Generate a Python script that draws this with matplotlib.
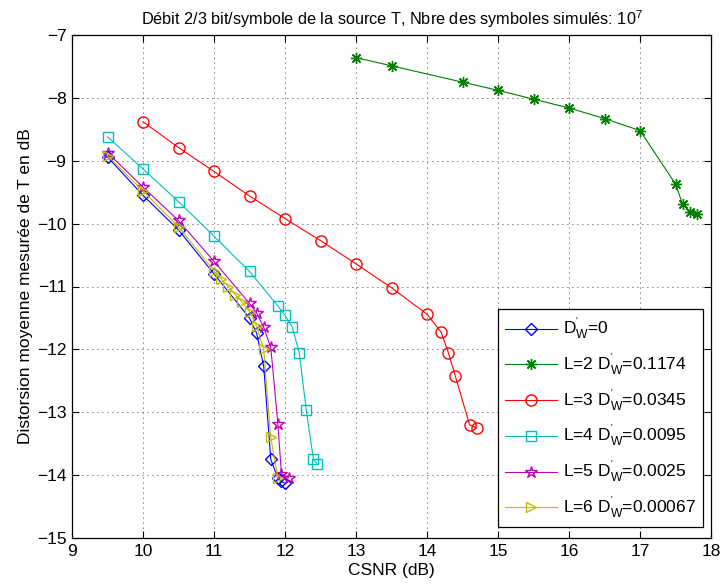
import matplotlib.pyplot as plt

plt.rcParams['font.family'] = ['Liberation Sans', 'DejaVu Sans']
plt.rcParams['mathtext.default'] = 'regular'

# courbes
x_d0 = [9.5, 10, 10.5, 11, 11.5, 11.6, 11.7, 11.8, 11.9, 11.95, 12.0]
y_d0 = [-8.94, -9.55, -10.1, -10.8, -11.5, -11.74, -12.27, -13.75, -14.05, -14.1, -14.13]

x_l2 = [13, 13.5, 14.5, 15, 15.5, 16, 16.5, 17, 17.5, 17.6, 17.7, 17.8]
y_l2 = [-7.36, -7.49, -7.75, -7.88, -8.02, -8.16, -8.33, -8.52, -9.37, -9.69, -9.82, -9.84]

x_l3 = [10, 10.5, 11, 11.5, 12, 12.5, 13, 13.5, 14, 14.2, 14.3, 14.4, 14.6, 14.7]
y_l3 = [-8.38, -8.79, -9.17, -9.56, -9.92, -10.27, -10.64, -11.02, -11.44, -11.73, -12.05, -12.43, -13.2, -13.25]

x_l4 = [9.5, 10, 10.5, 11, 11.5, 11.9, 12.0, 12.1, 12.2, 12.3, 12.4, 12.45]
y_l4 = [-8.62, -9.13, -9.65, -10.2, -10.76, -11.31, -11.46, -11.64, -12.05, -12.97, -13.75, -13.82]

x_l5 = [9.5, 10, 10.5, 11, 11.5, 11.6, 11.7, 11.8, 11.9, 11.95, 12.05]
y_l5 = [-8.87, -9.42, -9.95, -10.6, -11.27, -11.42, -11.65, -11.97, -13.19, -13.98, -14.04]

x_l6 = [9.5, 10, 10.5, 11, 11.1, 11.2, 11.3, 11.4, 11.5, 11.6, 11.7, 11.8, 11.9]
y_l6 = [-8.92, -9.48, -10.05, -10.75, -10.88, -11.0, -11.13, -11.25, -11.4, -11.63, -12.0, -13.4, -14.05]

labels = [r"$D^{'}_{W}$=0",
          r"L=2 $D^{'}_{W}$=0.1174",
          r"L=3 $D^{'}_{W}$=0.0345",
          r"L=4 $D^{'}_{W}$=0.0095",
          r"L=5 $D^{'}_{W}$=0.0025",
          r"L=6 $D^{'}_{W}$=0.00067"]

fig = plt.figure(figsize=(7.2, 5.87), dpi=100)
ax = fig.add_axes([72 / 720, 1 - 538 / 587, 639 / 720, 503 / 587])

ms = 7
lw = 0.8
ax.plot(x_d0, y_d0, color=(0, 0, 1), marker='D', ms=6.5, mfc='none', lw=lw, label=labels[0])
ax.plot(x_l2, y_l2, color=(0, 0.5, 0), marker=(8, 2, 0), ms=ms + 1, mfc='none', lw=lw, label=labels[1])
ax.plot(x_l3, y_l3, color=(1, 0, 0), marker='o', ms=ms + 1, mfc='none', lw=lw, label=labels[2])
ax.plot(x_l4, y_l4, color=(0, 0.75, 0.75), marker='s', ms=ms, mfc='none', lw=lw, label=labels[3])
ax.plot(x_l5, y_l5, color=(0.75, 0, 0.75), marker='*', ms=ms + 2, mfc='none', lw=lw, label=labels[4])
ax.plot(x_l6, y_l6, color=(0.75, 0.75, 0), marker='>', ms=ms, mfc='none', lw=lw, label=labels[5])

ax.set_xlim(9, 18)
ax.set_ylim(-15, -7)
ax.set_xticks(range(9, 19))
ax.set_yticks(range(-15, -6))
ax.tick_params(direction='in', top=True, right=True, labelsize=12.5, length=5, pad=4)
ax.grid(True, color='black', linestyle=(0, (1, 5)), linewidth=0.6)
for s in ax.spines.values():
    s.set_linewidth(0.9)

ax.set_xlabel('CSNR (dB)', fontsize=12.5, labelpad=3)
ax.set_ylabel('Distorsion moyenne mesurée de T en dB', fontsize=12.5, labelpad=3)
ax.set_title('Débit 2/3 bit/symbole de la source T, Nbre des symboles simulés: $10^{7}$',
             fontsize=11.7, pad=7)

leg = ax.legend(loc='lower right', bbox_to_anchor=(0.987, 0.022), borderaxespad=0,
                fontsize=12.5, handlelength=3.0, handletextpad=0.35, labelspacing=0.6,
                borderpad=0.4, fancybox=False, framealpha=1, edgecolor='black')
leg.get_frame().set_linewidth(0.9)

fig.savefig('out.png', dpi=100)
